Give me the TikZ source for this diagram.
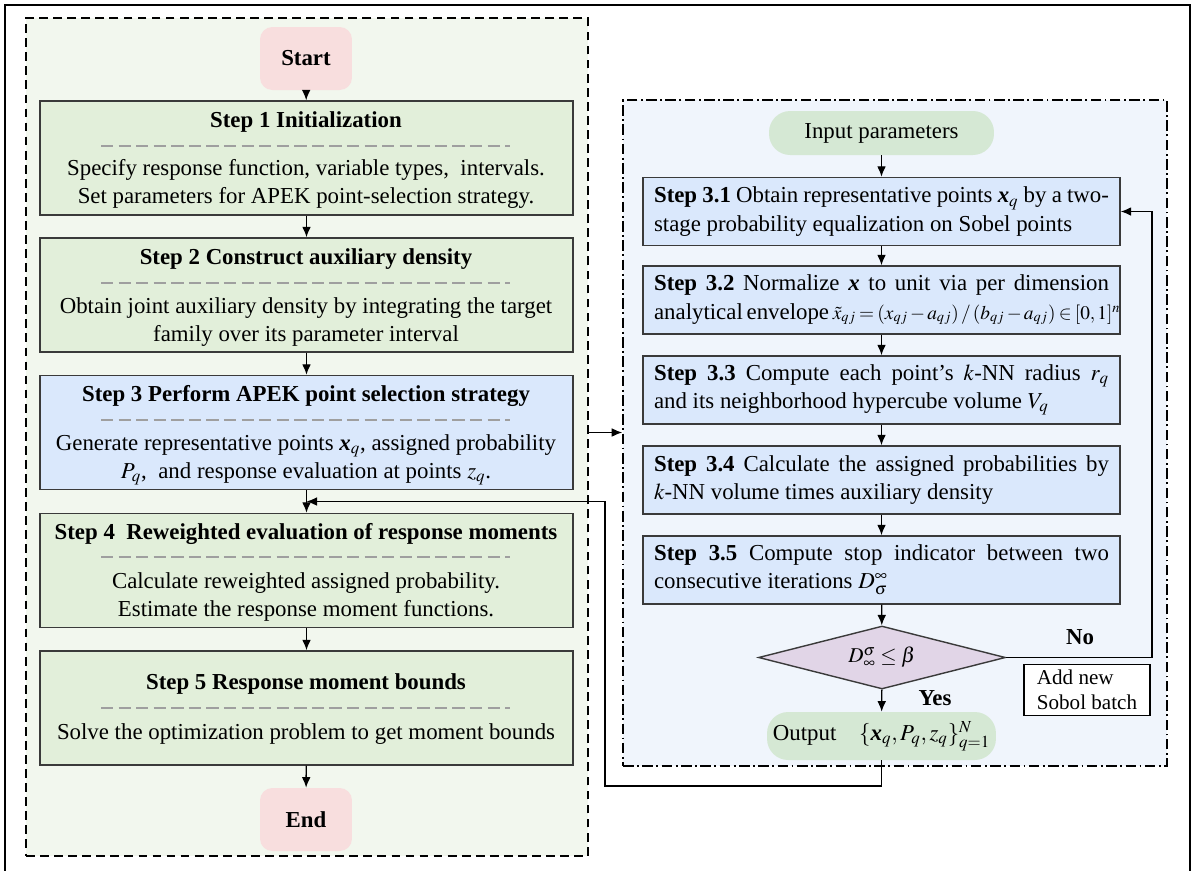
\documentclass[tikz,border=0pt]{standalone}
\usepackage{mathptmx}
\usepackage{fontspec}
\setmainfont{Liberation Serif}
\usetikzlibrary{shapes.geometric,arrows.meta,calc}

\definecolor{leftbg}{HTML}{F2F7EE}
\definecolor{rightbg}{HTML}{F0F5FC}
\definecolor{stepgreen}{HTML}{E2EFDA}
\definecolor{stepblue}{HTML}{DAE8FC}
\definecolor{termpink}{HTML}{F8DEDE}
\definecolor{pillgreen}{HTML}{D5E8D4}
\definecolor{decpurple}{HTML}{E1D5E7}
\definecolor{edgegray}{HTML}{3A3A3A}

\newcommand{\bx}{\textbf{\textit{x}}}
\newcommand{\basesize}{\fontsize{13}{16}\selectfont}

\tikzset{
  stepbox/.style={draw=edgegray, line width=0.8pt, minimum width=10.66cm, minimum height=2.28cm},
  subbox/.style={draw=edgegray, fill=stepblue, line width=0.8pt, minimum width=9.54cm,
    minimum height=1.36cm, text width=9.1cm, align=justify, inner sep=0pt,
    execute at begin node={\hyphenpenalty=10000}},
  term/.style={fill=termpink, rounded corners=7pt, minimum width=1.84cm, minimum height=1.26cm, font=\basesize\bfseries},
  pill/.style={fill=pillgreen, rounded corners=12pt, minimum width=4.5cm},
  title/.style={font=\basesize\bfseries},
  body/.style={align=center},
  sep/.style={draw=gray!75, line width=1pt, dash pattern=on 7pt off 3pt},
  flow/.style={-{Latex[length=6pt,width=5pt]}, line width=0.8pt},
}

\begin{document}
\begin{tikzpicture}[x=0.02cm, y=-0.02cm, font=\basesize]
\useasboundingbox (0,0) rectangle (1194,870);
\clip (0,0) rectangle (1194,870);
\draw[line width=1pt] (5,5) rectangle (1190,900);

% containers
\node[draw, fill=leftbg, line width=0.9pt, dash pattern=on 5pt off 3pt,
  minimum width=11.24cm, minimum height=16.76cm] (leftc) at (307,437) {};
\node[draw, fill=rightbg, line width=0.9pt, dash pattern=on 6pt off 2pt on 1pt off 2pt,
  minimum width=10.88cm, minimum height=13.32cm] (rightc) at (895,433) {};

% main flow
\node[term] (start) at (306,58.5) {Start};
\node[stepbox, fill=stepgreen] (s1) at (306.5,158) {};
\node[stepbox, fill=stepgreen] (s2) at (306.5,295) {};
\node[stepbox, fill=stepblue] (s3) at (306.5,432.5) {};
\node[stepbox, fill=stepgreen] (s4) at (306.5,570.5) {};
\node[stepbox, fill=stepgreen] (s5) at (306.5,708) {};
\node[term] (end) at (306,819.5) {End};

\node[title] (t1) at (306,122) {Step 1 Initialization};
\node[body] (b1) at (306,184) {Specify response function, variable types,\ \ intervals.\\
  Set parameters for APEK point-selection strategy.};
\node[title] (t2) at (306,259) {Step 2 Construct auxiliary density};
\node[body] (b2) at (306,322) {Obtain joint auxiliary density by integrating the target\\
  family over its parameter interval};
\node[title] (t3) at (306,396) {Step 3 Perform APEK point selection strategy};
\node[body] (b3) at (306,460) {Generate representative points \bx$_q$, assigned probability\\
  $P_q$,\ \ and response evaluation at points $z_q$.};
\node[title] (t4) at (306,534) {Step 4\ \ Reweighted evaluation of response moments};
\node[body] (b4) at (306,597) {Calculate reweighted assigned probability.\\
  Estimate the response moment functions.};
\node[title] (t5) at (306,684) {Step 5 Response moment bounds};
\node[body] (b5) at (306,734) {Solve the optimization problem to get moment bounds};

\foreach \y in {146,283,420,557,708}
  \draw[sep] (101,\y) -- (510,\y);

\draw[flow] (start) -- (s1);
\draw[flow] (s1) -- (s2);
\draw[flow] (s2) -- (s3);
\draw[flow] (s3) -- (s4);
\draw[flow] (s4) -- (s5);
\draw[flow] (s5) -- (end);

% APEK loop
\node[pill, minimum height=0.88cm] (inp) at (881.5,133) {Input parameters};
\node[subbox] (s31) at (881.5,211.5) {\textbf{Step 3.1} Obtain representative points \bx$_q$ by a two-stage probability equalization on Sobel points};
\node[subbox] (s32) at (881.5,300) {\textbf{Step 3.2} Normalize \bx\ to unit via per dimension\linebreak analytical envelope\,\mbox{\fontsize{11}{14}\selectfont$\medmuskip=2mu\thickmuskip=3mu\tilde{x}_{qj}=(x_{qj}-a_{qj})\,/\,(b_{qj}-a_{qj})\in[0,1]^n$}};
\node[subbox] (s33) at (881.5,390) {\textbf{Step 3.3} Compute each point’s $k$-NN radius $r_q$\linebreak and its neighborhood hypercube volume $V_q$};
\node[subbox] (s34) at (881.5,480) {\textbf{Step 3.4} Calculate the assigned probabilities by\linebreak $k$-NN volume times auxiliary density};
\node[subbox] (s35) at (881.5,570) {\textbf{Step 3.5} Compute stop indicator between two consecutive iterations $D_\sigma^\infty$};
\node[diamond, draw=edgegray, fill=decpurple, line width=0.8pt, aspect=4, inner sep=0pt,
  minimum width=4.94cm, minimum height=1.26cm] (dec) at (882,657.5) {\large $D_\infty^\sigma\le\beta$};
\node[pill, minimum height=0.96cm] (out) at (881.5,736) {Output\quad $\{\bx_q,P_q,z_q\}_{q=1}^N$};
\node[title] (no) at (1080,637) {No};
\node[title] (yes) at (935,698) {Yes};
\node[draw, fill=white, line width=0.8pt, align=left, minimum width=2.52cm, minimum height=1.02cm,
  inner sep=2pt, font=\fontsize{12}{14}\selectfont] (batch) at (1087,690) {Add new\\Sobol batch};

\draw[flow] (inp) -- (s31);
\draw[flow] (s31) -- (s32);
\draw[flow] (s32) -- (s33);
\draw[flow] (s33) -- (s34);
\draw[flow] (s34) -- (s35);
\draw[flow] (s35) -- (dec);
\draw[flow] (dec) -- (out);

\coordinate (loopc) at (1152,657.5);
\coordinate (backc) at (605,786);
\coordinate (merge) at ($(s3.south)!0.5!(s4.north)$);
\draw[flow] (dec.east) -- (loopc) |- (s31.east);
\draw[flow] (s3.east -| leftc.east) -- (s3.east -| rightc.west);
\draw[flow] (out.south) |- (backc) |- (merge);
\end{tikzpicture}
\end{document}
